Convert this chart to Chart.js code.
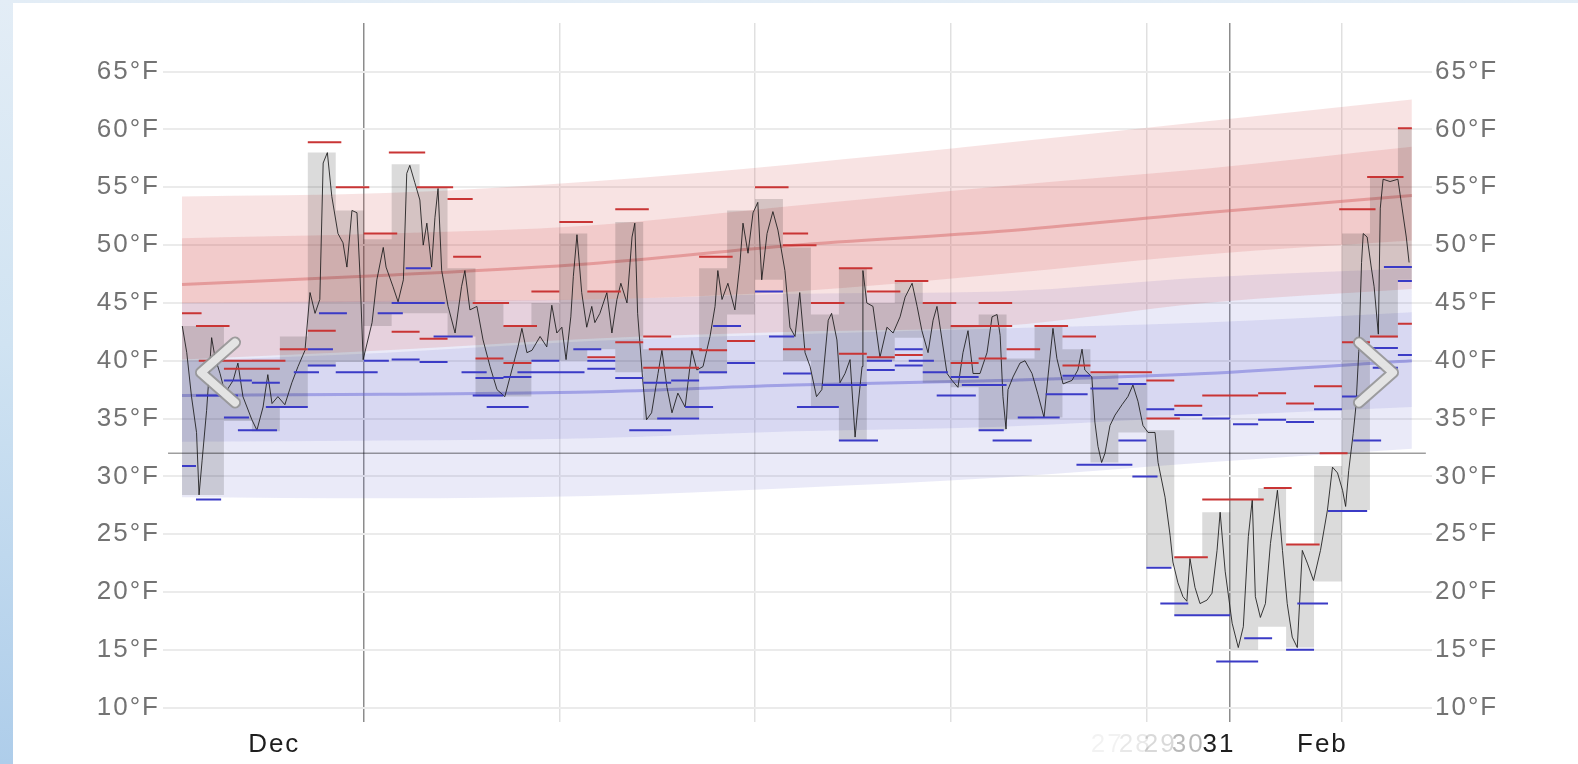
<!DOCTYPE html>
<html>
<head>
<meta charset="utf-8">
<script src="https://cdn.jsdelivr.net/npm/chart.js@4.4.1/dist/chart.umd.min.js"></script>
<style>
    html, body { margin: 0; padding: 0; width: 1578px; height: 764px; overflow: hidden; }
    body { position: relative; background: linear-gradient(180deg, #e3edf6 0%, #d0e3f2 45%, #aecdea 100%); }
    #panel { position: absolute; left: 13px; top: 3px; right: 0; bottom: 0; background: #ffffff; }
    #myChart { position: absolute; left: 0; top: 0; }
</style>
</head>
<body>
<div id="panel"></div>
<canvas id="myChart" width="1578" height="764"></canvas>
<script>
// x values are days counted from Dec 27 (day 0), y values are °F

const tempTicks = [10, 15, 20, 25, 30, 35, 40, 45, 50, 55, 60, 65];

const dateLabelDays = [1.8, 31.6, 32.6, 33.5, 34.5, 35.6, 39.3];
const dateLabels = ['Dec', '27', '28', '29', '30', '31', 'Feb'];

const weekLineDays = [5, 12, 19, 26, 33, 36, 40];
const monthStartDays = [5, 36];

// climate normals (percentile bands of daily high / low)
const bandDays = [-1.5, 5.8, 13.1, 20.4, 27.8, 35.1, 42.5];
const highP90 = [54.2, 54.5, 55.5, 57.0, 58.8, 60.7, 62.6];
const highP75 = [50.6, 51.0, 51.7, 53.4, 55.1, 56.6, 58.5];
const highAvg = [46.6, 47.4, 48.4, 50.0, 51.2, 52.8, 54.3];
const highP25 = [45.0, 45.1, 45.3, 46.0, 47.5, 49.2, 50.4];
const highP10 = [40.1, 40.9, 41.9, 42.5, 43.0, 45.0, 46.2];
const lowP90 = [45.0, 45.2, 45.3, 45.8, 46.0, 47.2, 48.0];
const lowP75 = [40.0, 40.7, 41.7, 42.3, 42.8, 43.3, 44.2];
const lowAvg = [37.0, 37.1, 37.3, 37.9, 38.3, 38.9, 40.0];
const lowP25 = [33.0, 33.1, 33.3, 33.9, 34.3, 35.2, 36.0];
const lowP10 = [28.2, 28.1, 28.3, 29.0, 29.9, 31.2, 32.4];

// observed daily range: [fromDay, toDay, low, high]
const dailyRanges = [
    [-1.5, 0, 28.4, 43.0], [0, 1, 34.8, 40.0], [1, 2, 33.9, 40.1], [2, 3, 36.0, 42.1],
    [3, 4, 39.5, 58.0], [4, 5, 39.9, 53.0], [5, 6, 43.0, 50.5], [6, 7, 44.1, 57.0],
    [7, 8, 44.1, 55.0], [8, 9, 42.1, 48.0], [9, 10, 36.9, 45.0], [10, 11, 36.9, 43.0],
    [11, 12, 40.0, 45.0], [12, 13, 40.0, 51.0], [13, 14, 41.0, 46.0], [14, 15, 39.0, 52.0],
    [15, 16, 34.9, 41.0], [16, 17, 35.1, 41.0], [17, 18, 38.9, 48.0], [18, 19, 44.0, 53.0],
    [19, 20, 47.0, 54.0], [20, 21, 40.0, 49.8], [21, 22, 36.0, 44.0], [22, 23, 33.1, 48.0],
    [23, 24, 40.0, 45.0], [24, 25, 42.0, 46.8], [25, 26, 38.1, 45.0], [26, 27, 37.7, 43.0],
    [27, 28, 34.0, 44.0], [28, 29, 35.0, 40.2], [29, 30, 35.1, 43.1], [30, 31, 38.0, 41.0],
    [31, 32, 31.2, 38.9], [32, 33, 33.8, 38.0], [33, 34, 22.2, 34.0], [34, 35, 18.0, 23.0],
    [35, 36, 18.0, 26.9], [36, 37, 15.0, 28.1], [37, 38, 17.0, 29.0], [38, 39, 15.2, 24.1],
    [39, 40, 20.9, 30.9], [40, 41, 27.1, 51.0], [41, 42, 42.0, 55.9], [42, 42.5, 47.0, 60.0]
];

// forecast highs / lows: [fromDay, toDay, temp]
const forecastHighs = [
    [-1.5, -0.8, 44.1], [-1.0, 0.2, 43.0], [-0.9, 0.2, 40.0], [0.0, 2.2, 40.0], [0.0, 2.0, 39.3],
    [2.0, 3.0, 41.0], [3.0, 4.0, 42.6], [3.0, 4.2, 58.9], [4.0, 5.2, 55.0], [5.0, 6.2, 51.0],
    [5.9, 7.2, 58.0], [6.0, 7.0, 42.5], [6.9, 8.2, 55.0], [7.0, 8.0, 41.9], [8.0, 8.9, 54.0],
    [8.2, 9.2, 49.0], [8.9, 10.2, 45.0], [9.0, 10.0, 40.2], [10.0, 11.2, 43.0], [10.0, 11.0, 39.8],
    [11.0, 12.0, 46.0], [12.0, 13.2, 52.0], [13.0, 14.2, 46.0], [13.0, 14.0, 40.3], [14.0, 15.2, 53.1],
    [14.0, 15.0, 41.6], [15.0, 16.0, 42.1], [15.2, 17.1, 41.0], [15.0, 17.0, 39.4], [17.0, 18.0, 40.9],
    [17.0, 18.2, 49.0], [18.0, 19.0, 41.7], [19.0, 20.2, 55.0], [20.0, 20.9, 51.0], [20.0, 21.2, 50.0],
    [20.0, 21.0, 41.0], [21.0, 22.2, 45.0], [22.0, 23.2, 48.0], [22.0, 23.0, 40.6], [23.0, 24.2, 46.0],
    [23.0, 24.0, 40.3], [24.0, 25.2, 46.9], [24.0, 25.0, 40.5], [25.0, 26.2, 45.0], [26.0, 28.2, 43.0],
    [26.0, 27.0, 39.8], [27.0, 28.2, 45.0], [27.0, 28.0, 40.2], [28.0, 29.2, 41.0], [29.0, 30.2, 43.0],
    [30.0, 31.2, 42.1], [30.0, 31.0, 39.6], [31.0, 33.2, 39.0], [33.0, 34.0, 38.3], [33.0, 34.2, 35.0],
    [34.0, 35.0, 36.1], [34.0, 35.2, 23.0], [35.0, 37.2, 28.0], [35.0, 37.0, 37.0], [37.0, 38.0, 37.2],
    [37.2, 38.2, 29.0], [38.0, 39.0, 36.3], [38.0, 39.2, 24.1], [39.0, 40.0, 37.8], [39.2, 40.2, 32.0],
    [39.9, 41.2, 53.1], [40.0, 41.0, 41.6], [40.9, 42.2, 55.9], [41.0, 42.0, 42.1], [42.0, 42.5, 60.1],
    [42.0, 42.5, 43.2]
];

const forecastLows = [
    [-1.5, -1.0, 30.9], [-1.0, -0.1, 28.0], [-1.0, 0.5, 37.0], [0.0, 0.9, 35.1], [0.0, 1.0, 38.3],
    [0.5, 1.9, 34.0], [1.0, 2.0, 38.1], [1.5, 3.0, 36.0], [2.5, 3.4, 39.0], [3.0, 4.0, 39.6],
    [3.0, 3.9, 41.0], [3.4, 4.4, 44.1], [4.0, 5.5, 39.0], [5.0, 5.9, 40.0], [5.5, 6.4, 44.1],
    [6.0, 7.0, 40.1], [6.5, 7.4, 48.0], [6.0, 7.9, 45.0], [7.0, 8.0, 39.9], [7.5, 8.9, 42.1],
    [8.5, 9.4, 39.0], [9.0, 10.0, 38.5], [8.9, 10.0, 37.0], [9.4, 10.9, 36.0], [10.0, 11.0, 38.6],
    [10.5, 12.9, 39.0], [11.0, 12.0, 40.0], [12.5, 13.5, 41.0], [13.0, 14.0, 40.0], [13.0, 14.0, 39.3],
    [14.0, 15.0, 38.5], [14.5, 16.0, 34.0], [15.0, 16.0, 38.1], [15.5, 17.0, 35.0], [16.0, 17.0, 38.3],
    [16.5, 17.5, 36.0], [17.0, 18.0, 39.0], [17.5, 18.5, 43.0], [18.0, 19.0, 39.8], [19.0, 20.0, 46.0],
    [19.5, 20.4, 42.1], [20.0, 21.0, 38.9], [20.5, 22.0, 36.0], [21.4, 23.0, 37.9], [22.0, 23.4, 33.1],
    [23.0, 23.9, 40.0], [23.0, 24.0, 39.2], [24.0, 25.0, 41.0], [24.0, 25.0, 39.6], [24.5, 25.4, 40.0],
    [25.0, 25.9, 39.0], [25.5, 26.9, 37.0], [26.0, 27.0, 38.6], [26.4, 28.0, 37.9], [27.0, 27.9, 34.0],
    [27.5, 28.9, 33.1], [28.4, 29.9, 35.1], [29.4, 30.9, 37.1], [30.0, 31.0, 38.7], [31.0, 32.0, 37.6],
    [30.5, 32.5, 31.0], [32.0, 33.0, 38.0], [32.0, 33.0, 33.1], [32.5, 33.4, 30.0], [33.0, 34.0, 35.8],
    [34.0, 35.0, 35.3], [33.0, 33.9, 22.1], [33.5, 34.5, 19.0], [34.0, 36.0, 18.0], [35.0, 36.0, 35.0],
    [35.5, 37.0, 14.0], [36.1, 37.0, 34.5], [36.5, 37.5, 16.0], [37.0, 38.0, 34.9], [38.0, 39.0, 15.0],
    [38.0, 39.0, 34.7], [38.4, 39.5, 19.0], [39.0, 40.0, 35.8], [39.5, 40.9, 27.0], [40.0, 41.0, 36.9],
    [40.4, 41.4, 33.1], [41.1, 42.0, 41.1], [41.1, 42.0, 39.4], [41.5, 42.5, 48.1], [42.0, 42.5, 46.9],
    [42.0, 42.5, 40.5]
];

// observed temperature: [day, temp]
const hourlyTemps = [
    [-1.49, 43.0], [-1.33, 40.7], [-1.16, 36.9], [-0.98, 33.8], [-0.89, 28.4], [-0.78, 31.4], [-0.62, 35.7],
    [-0.44, 42.0], [-0.32, 40.3], [-0.14, 38.9], [0.04, 37.2], [0.33, 38.3], [0.5, 39.8], [0.68, 36.9],
    [1.0, 34.9], [1.18, 34.0], [1.4, 36.0], [1.57, 38.8], [1.72, 36.3], [1.93, 36.9], [2.18, 36.2],
    [2.43, 38.1], [2.65, 39.5], [2.9, 40.9], [3.08, 45.9], [3.26, 44.1], [3.43, 45.3], [3.55, 57.1],
    [3.7, 58.0], [3.86, 54.2], [4.08, 51.0], [4.26, 50.2], [4.4, 48.1], [4.58, 53.0], [4.76, 52.8],
    [4.87, 47.3], [4.98, 40.1], [5.3, 43.3], [5.47, 47.0], [5.7, 49.8], [5.8, 48.1], [6.05, 46.4],
    [6.23, 45.1], [6.42, 47.0], [6.54, 56.2], [6.65, 56.9], [6.83, 55.4], [7.01, 53.9], [7.13, 50.0],
    [7.26, 51.9], [7.43, 48.1], [7.55, 52.4], [7.66, 54.9], [7.79, 47.8], [8.02, 44.7], [8.27, 42.4],
    [8.5, 46.4], [8.62, 47.8], [8.8, 44.4], [9.05, 44.7], [9.27, 41.8], [9.52, 39.5], [9.77, 37.5],
    [10.05, 36.9], [10.3, 39.2], [10.52, 41.2], [10.66, 42.8], [10.84, 40.7], [11.02, 40.9], [11.31, 42.1],
    [11.55, 41.2], [11.73, 44.8], [11.91, 42.4], [12.09, 42.9], [12.24, 40.1], [12.41, 43.8], [12.5, 47.3],
    [12.63, 50.9], [12.8, 45.9], [12.98, 42.9], [13.16, 44.7], [13.27, 43.3], [13.45, 44.1], [13.7, 45.9],
    [13.88, 42.4], [14.06, 45.3], [14.2, 46.7], [14.42, 45.0], [14.6, 50.7], [14.7, 51.9], [14.8, 44.1],
    [14.99, 38.1], [15.12, 34.9], [15.3, 35.5], [15.53, 38.9], [15.67, 40.9], [15.85, 37.7], [16.03, 35.5],
    [16.24, 37.2], [16.5, 36.0], [16.74, 40.9], [16.92, 39.2], [17.14, 39.5], [17.39, 42.1], [17.57, 44.7],
    [17.67, 47.8], [17.82, 45.3], [18.03, 46.7], [18.28, 44.4], [18.46, 48.4], [18.57, 51.9], [18.75, 49.3],
    [18.93, 52.8], [19.1, 53.7], [19.24, 47.0], [19.43, 51.0], [19.64, 52.9], [19.82, 51.3], [20.07, 47.8],
    [20.25, 42.9], [20.43, 42.1], [20.6, 45.9], [20.79, 40.7], [20.97, 39.5], [21.2, 36.9], [21.39, 37.5],
    [21.62, 43.5], [21.74, 44.1], [21.93, 41.8], [22.04, 38.1], [22.22, 38.9], [22.4, 40.1], [22.58, 33.4],
    [22.68, 36.0], [22.83, 39.5], [22.86, 47.8], [23.0, 45.0], [23.22, 44.7], [23.47, 40.3], [23.72, 42.9],
    [23.94, 42.4], [24.19, 43.8], [24.37, 45.5], [24.62, 46.7], [24.8, 44.7], [24.97, 42.6], [25.19, 40.7],
    [25.37, 43.5], [25.51, 44.7], [25.69, 41.8], [25.87, 38.9], [26.05, 38.3], [26.26, 37.7], [26.44, 40.7],
    [26.62, 42.6], [26.8, 38.9], [27.05, 38.9], [27.3, 40.7], [27.48, 43.8], [27.66, 44.0], [27.77, 42.2],
    [27.87, 36.9], [27.98, 34.1], [28.05, 37.5], [28.23, 38.6], [28.48, 39.8], [28.66, 40.0], [28.91, 38.9],
    [29.12, 37.1], [29.34, 35.1], [29.48, 38.6], [29.66, 42.8], [29.8, 40.2], [30.02, 38.0], [30.34, 38.3],
    [30.55, 39.2], [30.7, 41.0], [30.8, 39.2], [31.05, 38.6], [31.16, 34.7], [31.27, 32.6], [31.4, 31.2],
    [31.52, 32.0], [31.7, 34.4], [31.88, 35.3], [32.13, 36.2], [32.34, 36.9], [32.52, 37.9], [32.7, 36.5],
    [32.88, 34.4], [33.06, 33.8], [33.31, 33.8], [33.42, 31.2], [33.67, 28.2], [33.85, 24.9], [33.95, 22.6],
    [34.13, 20.8], [34.31, 19.6], [34.45, 19.2], [34.56, 22.9], [34.74, 20.4], [34.92, 19.0], [35.17, 19.3],
    [35.35, 19.9], [35.53, 23.6], [35.64, 26.9], [35.82, 21.8], [36.07, 17.3], [36.29, 15.2], [36.47, 17.0],
    [36.65, 24.8], [36.79, 28.0], [36.9, 19.6], [37.08, 17.8], [37.26, 19.0], [37.44, 24.2], [37.69, 28.8],
    [37.87, 23.6], [38.04, 19.0], [38.22, 16.1], [38.4, 15.2], [38.58, 23.6], [38.76, 22.5], [38.98, 21.0],
    [39.23, 23.6], [39.48, 27.1], [39.66, 30.8], [39.84, 30.3], [40.02, 28.8], [40.13, 27.4], [40.24, 30.5],
    [40.4, 33.7], [40.5, 36.1], [40.6, 40.8], [40.7, 48.5], [40.76, 51.0], [40.9, 50.7], [41.04, 48.2],
    [41.15, 46.4], [41.3, 42.3], [41.37, 53.2], [41.47, 55.7], [41.72, 55.5], [42.0, 55.7], [42.15, 53.2],
    [42.3, 50.7], [42.4, 48.5]
];

const freezingLine = [[-2.0, 32], [43.0, 32]];

const xMin = -2.18;
const xMax = 43.22;
const yMin = 8.76;
const yMax = 69.21;

const tickFont = { family: 'Liberation Sans, Arial, sans-serif', size: 26 };
const labelColors = ['#1e1e1e', 'rgba(0,0,0,0.05)', 'rgba(0,0,0,0.09)', 'rgba(0,0,0,0.15)', 'rgba(0,0,0,0.28)', '#1e1e1e', '#1e1e1e'];

function toPoints(pairs) {
    return pairs.map((p) => { return { x: p[0], y: p[1] } })
}

function bandData(values) {
    return values.map((v, i) => { return { x: bandDays[i], y: v } })
}

// each dash becomes two points plus a gap point so the line breaks between dashes
function dashData(dashes) {
    return dashes.flatMap((d) => [{ x: d[0], y: d[2] }, { x: d[1], y: d[2] }, { x: d[1], y: null }])
}

// stepped outline of the daily range boxes (key 2 = low, 3 = high)
function stepData(key) {
    const pts = dailyRanges.map((r) => { return { x: r[0], y: r[key] } });
    const last = dailyRanges[dailyRanges.length - 1];
    pts.push({ x: last[1], y: last[key] });
    return pts;
}

const clear = 'rgba(0,0,0,0)';
const redBand = 'rgba(205,70,70,0.15)';
const blueBand = 'rgba(90,90,200,0.13)';

function bandPair(hi, lo, color, order) {
    return [
        { data: bandData(hi), fill: '+1', backgroundColor: color, borderColor: clear, borderWidth: 0, cubicInterpolationMode: 'monotone', order: order },
        { data: bandData(lo), fill: false, borderColor: clear, borderWidth: 0, cubicInterpolationMode: 'monotone', order: order }
    ];
}

const datasets = [
    { label: 'Forecast high', data: dashData(forecastHighs), borderColor: '#c93535', borderWidth: 2, spanGaps: false, fill: false, order: 1 },
    { label: 'Forecast low', data: dashData(forecastLows), borderColor: '#3b3bc6', borderWidth: 2, spanGaps: false, fill: false, order: 1 },
    { label: 'Temperature', data: toPoints(hourlyTemps), borderColor: 'rgba(25,25,25,0.85)', borderWidth: 1, fill: false, order: 2 },
    { label: 'Freezing', data: toPoints(freezingLine), borderColor: 'rgba(0,0,0,0.38)', borderWidth: 1.5, fill: false, order: 3 },
    { label: 'Range high', data: stepData(3), stepped: 'before', fill: '+1', backgroundColor: 'rgba(0,0,0,0.14)', borderColor: clear, borderWidth: 0, order: 4 },
    { label: 'Range low', data: stepData(2), stepped: 'before', fill: false, borderColor: clear, borderWidth: 0, order: 4 },
    { label: 'Avg high', data: bandData(highAvg), borderColor: 'rgba(215,105,105,0.5)', borderWidth: 3, fill: false, cubicInterpolationMode: 'monotone', order: 5 },
    { label: 'Avg low', data: bandData(lowAvg), borderColor: 'rgba(105,105,215,0.5)', borderWidth: 3, fill: false, cubicInterpolationMode: 'monotone', order: 5 },
    ...bandPair(highP75, highP25, redBand, 6),
    ...bandPair(lowP75, lowP25, blueBand, 6),
    ...bandPair(highP90, highP10, redBand, 7),
    ...bandPair(lowP90, lowP10, blueBand, 7)
];

// text spacing + the two navigation chevrons drawn on top
const overlayPlugin = {
    id: 'overlay',
    beforeDraw(chart) {
        chart.ctx.letterSpacing = '2px';
    },
    afterDraw(chart) {
        const ctx = chart.ctx;
        const area = chart.chartArea;
        const midY = area.top + area.height * 0.5;
        const drawChevron = (tipX, dir) => {
            ctx.save();
            ctx.lineCap = 'round';
            ctx.lineJoin = 'round';
            ctx.beginPath();
            ctx.moveTo(tipX + dir * 34, midY - 30);
            ctx.lineTo(tipX, midY);
            ctx.lineTo(tipX + dir * 34, midY + 30);
            ctx.strokeStyle = 'rgba(150,150,150,0.9)';
            ctx.lineWidth = 12;
            ctx.stroke();
            ctx.strokeStyle = 'rgba(232,232,232,0.95)';
            ctx.lineWidth = 8;
            ctx.stroke();
            ctx.restore();
        };
        drawChevron(area.left + 38, 1);
        drawChevron(area.right - 39, -1);
    }
};

function tempAxis(position, width) {
    return {
        type: 'linear',
        position: position,
        min: yMin,
        max: yMax,
        afterBuildTicks: (axis) => { axis.ticks = tempTicks.map((v) => { return { value: v } }) },
        afterFit: (axis) => { axis.width = width },
        grid: { display: position === 'left', color: '#ebebeb', lineWidth: 2, drawTicks: false },
        border: { display: false },
        ticks: { padding: 3, color: '#737373', font: tickFont, callback: (v) => v + '°F' }
    };
}

const config = {
    type: 'line',
    data: { datasets: datasets },
    options: {
        responsive: false,
        animation: false,
        devicePixelRatio: 1,
        layout: { padding: { top: 23, left: 0, right: 0, bottom: 0 } },
        elements: { point: { radius: 0 }, line: { tension: 0 } },
        plugins: { legend: { display: false }, tooltip: { enabled: false } },
        scales: {
            x: {
                type: 'linear',
                position: 'bottom',
                min: xMin,
                max: xMax,
                afterBuildTicks: (axis) => { axis.ticks = dateLabelDays.map((v) => { return { value: v } }) },
                afterFit: (axis) => { axis.height = 42 },
                grid: { display: false, drawTicks: false },
                border: { display: false },
                ticks: {
                    autoSkip: false, maxRotation: 0, minRotation: 0, padding: 7,
                    font: tickFont,
                    color: (c) => labelColors[c.index],
                    callback: (v, i) => dateLabels[i]
                }
            },
            xg: {
                type: 'linear',
                position: 'bottom',
                min: xMin,
                max: xMax,
                afterBuildTicks: (axis) => { axis.ticks = weekLineDays.map((v) => { return { value: v } }) },
                afterFit: (axis) => { axis.height = 0 },
                border: { display: false },
                ticks: { display: false },
                grid: {
                    drawTicks: false,
                    lineWidth: 1.5,
                    color: (c) => (c.tick && monthStartDays.includes(c.tick.value)) ? 'rgba(0,0,0,0.45)' : 'rgba(0,0,0,0.12)'
                }
            },
            y: tempAxis('left', 163),
            y2: tempAxis('right', 146)
        }
    },
    plugins: [overlayPlugin]
};

const myChart = new Chart(document.getElementById('myChart'), config);
</script>
</body>
</html>
